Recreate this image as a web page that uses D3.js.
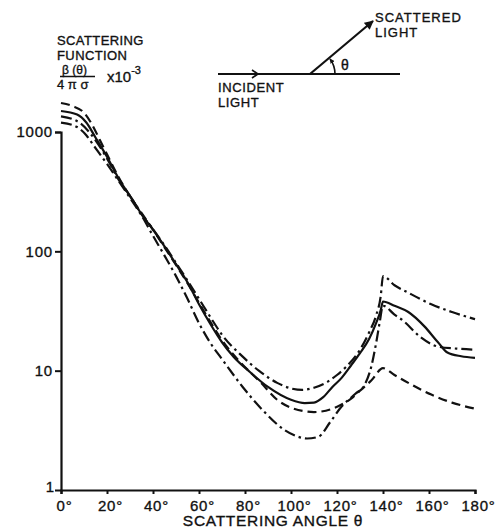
<!DOCTYPE html>
<html>
  <head>
    <meta charset="UTF-8">
    <script src="https://d3js.org/d3.v7.min.js"></script>
    <style>
      body{
        margin: 0;
        background: #fff;
      }
      text{
        font-family: "Liberation Sans", Arial, sans-serif;
        fill: #111;
        stroke: #111;
        stroke-width: 0.35px;
      }
      .curve{
        fill: none;
        stroke: #111;
        stroke-width: 2.2;
      }
    </style>
    <title>Scattering function</title>
  </head>
  <body>
    <svg id="chart" width="495" height="529"></svg>

    <script>
      // [angle in degrees, beta(theta)/(4 pi sigma) x 10^-3]
      const dashedCurve = [[0,1750],[5,1650],[10,1450],[13,1200],[17,850],[20,650],[25,420],[31,270],[35,210],[40,152],[45,108],[50,77],[55,54],[60,37],[65,25.5],[70,18],[77,12.3],[87,7.9],[94,5.7],[100,4.9],[110,4.5],[118,4.8],[122,5.2],[126,5.8],[130,6.8],[135,8.3],[140,10.5],[145,9.2],[151,7.9],[161,6.3],[170,5.4],[180,4.8]];
      const solidCurve = [[0,1500],[7,1400],[11,1200],[15,900],[20,620],[25,410],[31,272],[35,205],[40,152],[45,110],[50,78],[55,55],[60,36],[65,24.5],[70,17.3],[75,13.1],[82,9.8],[90,7.3],[100,5.7],[106,5.35],[110,5.4],[114,6],[118,7.3],[122,8.7],[126,11],[130,14],[134,18.5],[137,25],[139,32],[140,38],[145,35],[151,31],[158,23.5],[164,17.2],[168,14.2],[174,13.2],[180,12.8]];
      const upperDashDotCurve = [[0,1350],[8,1200],[12.6,980],[16,800],[20,600],[25,400],[31,272],[35,205],[40,153],[45,112],[50,80],[55,57],[60,40],[65,28],[70,20],[79,13.1],[86,10],[94,7.9],[100,7.1],[105,6.9],[110,7.2],[116,8.1],[120,9.2],[124,10.8],[130,15],[134,21],[137,29],[139,42],[140,62],[145,52],[151,45],[161,36],[170,31],[180,27]];
      const lowerDashDotCurve = [[0,1200],[7,1100],[11,940],[14,780],[20,540],[25,390],[31,262],[35,200],[40,135],[45,92],[50,62],[55,40],[60,25],[65,17],[70,12.5],[79,7.3],[88,4.6],[97,3.2],[103,2.8],[107,2.7],[112,2.8],[117,3.7],[122,5],[128,6.4],[132,7.6],[135,11],[137,17],[138.5,25],[140,35],[145,29.5],[149,26],[156,19.3],[164,15.9],[172,15.3],[180,15]];

      const xTicks = [0, 20, 40, 60, 80, 100, 120, 140, 160, 180];
      const yTicks = [1, 10, 100, 1000];
      const yTickLabels = ["1", "10", "100", "1000"];

      const svg = d3.select("svg#chart");
      const margin = {"top": 132, "left": 61};
      const chartWidth = 414;
      const chartHeight = 358;

      const xScale = d3.scaleLinear().domain([0, 180]).range([margin.left, margin.left + chartWidth]);
      const yScale = d3.scaleLog().domain([1, 1000]).range([margin.top + chartHeight, margin.top]);

      // axes
      let leftAxis = d3.axisLeft(yScale).tickValues(yTicks).tickFormat((d, i) => yTickLabels[i]).tickSize(6).tickPadding(2);
      let gy = svg.append("g")
         .attr("transform", "translate(" + margin.left + ",0)")
         .call(leftAxis);

      let bottomAxis = d3.axisBottom(xScale).tickValues(xTicks).tickFormat(d => d + "°").tickSize(4).tickPadding(6);
      let gx = svg.append("g")
         .attr("transform", "translate(0," + (margin.top + chartHeight) + ")")
         .call(bottomAxis);

      [gx, gy].forEach(g => {
        g.select(".domain").attr("stroke", "#111").attr("stroke-width", 2.2);
        g.selectAll(".tick line").attr("stroke", "#111").attr("stroke-width", 2);
        g.selectAll(".tick text")
         .style("font-size", "15px")
         .style("letter-spacing", "0.8px")
         .attr("fill", "#111");
      });
      gx.selectAll(".tick text").attr("dx", 3);
      gy.selectAll(".tick text").filter(d => d === 1).attr("dy", "0.1em").attr("x", -6);
      gy.selectAll(".tick line").filter(d => d === 1).remove();

      // curves
      const line = d3.line()
                     .x(d => xScale(d[0]))
                     .y(d => yScale(d[1]))
                     .curve(d3.curveMonotoneX);

      const series = [
        {data: dashedCurve, dash: "9,5"},
        {data: solidCurve, dash: null},
        {data: upperDashDotCurve, dash: "11,4,2.5,4"},
        {data: lowerDashDotCurve, dash: "11,4,2.5,4"}
      ];

      series.forEach(s => {
        svg.append("path")
           .attr("class", "curve")
           .attr("d", line(s.data))
           .attr("stroke-dasharray", s.dash);
      });

      // axis titles
      svg.append("text").attr("x", 273).attr("y", 526).attr("text-anchor", "middle")
         .style("font-size", "15.5px").style("letter-spacing", "0.7px").text("SCATTERING ANGLE θ");

      svg.append("text").attr("x", 57).attr("y", 45).style("font-size", "13px").style("letter-spacing", "0.4px").text("SCATTERING");
      svg.append("text").attr("x", 57).attr("y", 60).style("font-size", "13px").style("letter-spacing", "0.4px").text("FUNCTION");
      svg.append("text").attr("x", 62).attr("y", 74).style("font-size", "12px").text("β (θ)");
      svg.append("line").attr("x1", 60).attr("x2", 95).attr("y1", 76.5).attr("y2", 76.5)
         .attr("stroke", "#111").attr("stroke-width", 1.5);
      svg.append("text").attr("x", 57).attr("y", 89).style("font-size", "13px").text("4 π σ");
      let mult = svg.append("text").attr("x", 107).attr("y", 82).style("font-size", "15px");
      mult.append("tspan").text("x10");
      mult.append("tspan").attr("dy", -8).style("font-size", "11px").text("-3");

      // incident / scattered light sketch
      const defs = svg.append("defs");
      defs.append("marker").attr("id", "tip").attr("viewBox", "0 0 10 10")
          .attr("refX", 9).attr("refY", 5).attr("markerWidth", 5).attr("markerHeight", 5)
          .attr("markerUnits", "userSpaceOnUse").attr("orient", "auto")
          .append("path").attr("d", "M0,0 L10,5 L0,10 Z").attr("fill", "#111");
      defs.append("marker").attr("id", "tipBig").attr("viewBox", "0 0 10 10")
          .attr("refX", 9).attr("refY", 5).attr("markerWidth", 10).attr("markerHeight", 9)
          .attr("markerUnits", "userSpaceOnUse").attr("orient", "auto")
          .append("path").attr("d", "M0,0 L10,5 L0,10 Z").attr("fill", "#111");

      svg.append("line").attr("x1", 218).attr("y1", 74).attr("x2", 400).attr("y2", 74)
         .attr("stroke", "#111").attr("stroke-width", 2.2);
      svg.append("path").attr("d", "M252,70 L258,74 L252,78")
         .attr("fill", "none").attr("stroke", "#111").attr("stroke-width", 1.6);
      svg.append("line").attr("x1", 310).attr("y1", 74).attr("x2", 373).attr("y2", 21)
         .attr("stroke", "#111").attr("stroke-width", 2.2).attr("marker-end", "url(#tipBig)");
      svg.append("path").attr("d", "M335,74 A25,25 0 0 0 330,59")
         .attr("fill", "none").attr("stroke", "#111").attr("stroke-width", 1.6)
         .attr("marker-end", "url(#tip)");
      svg.append("text").attr("x", 341).attr("y", 70).style("font-size", "14px").text("θ");

      svg.append("text").attr("x", 375).attr("y", 22).style("font-size", "13px").style("letter-spacing", "1px").text("SCATTERED");
      svg.append("text").attr("x", 375).attr("y", 37).style("font-size", "13px").style("letter-spacing", "1px").text("LIGHT");
      svg.append("text").attr("x", 218).attr("y", 92).style("font-size", "13px").style("letter-spacing", "0.6px").text("INCIDENT");
      svg.append("text").attr("x", 218).attr("y", 107).style("font-size", "13px").style("letter-spacing", "0.6px").text("LIGHT");
    </script>
  </body>
</html>
